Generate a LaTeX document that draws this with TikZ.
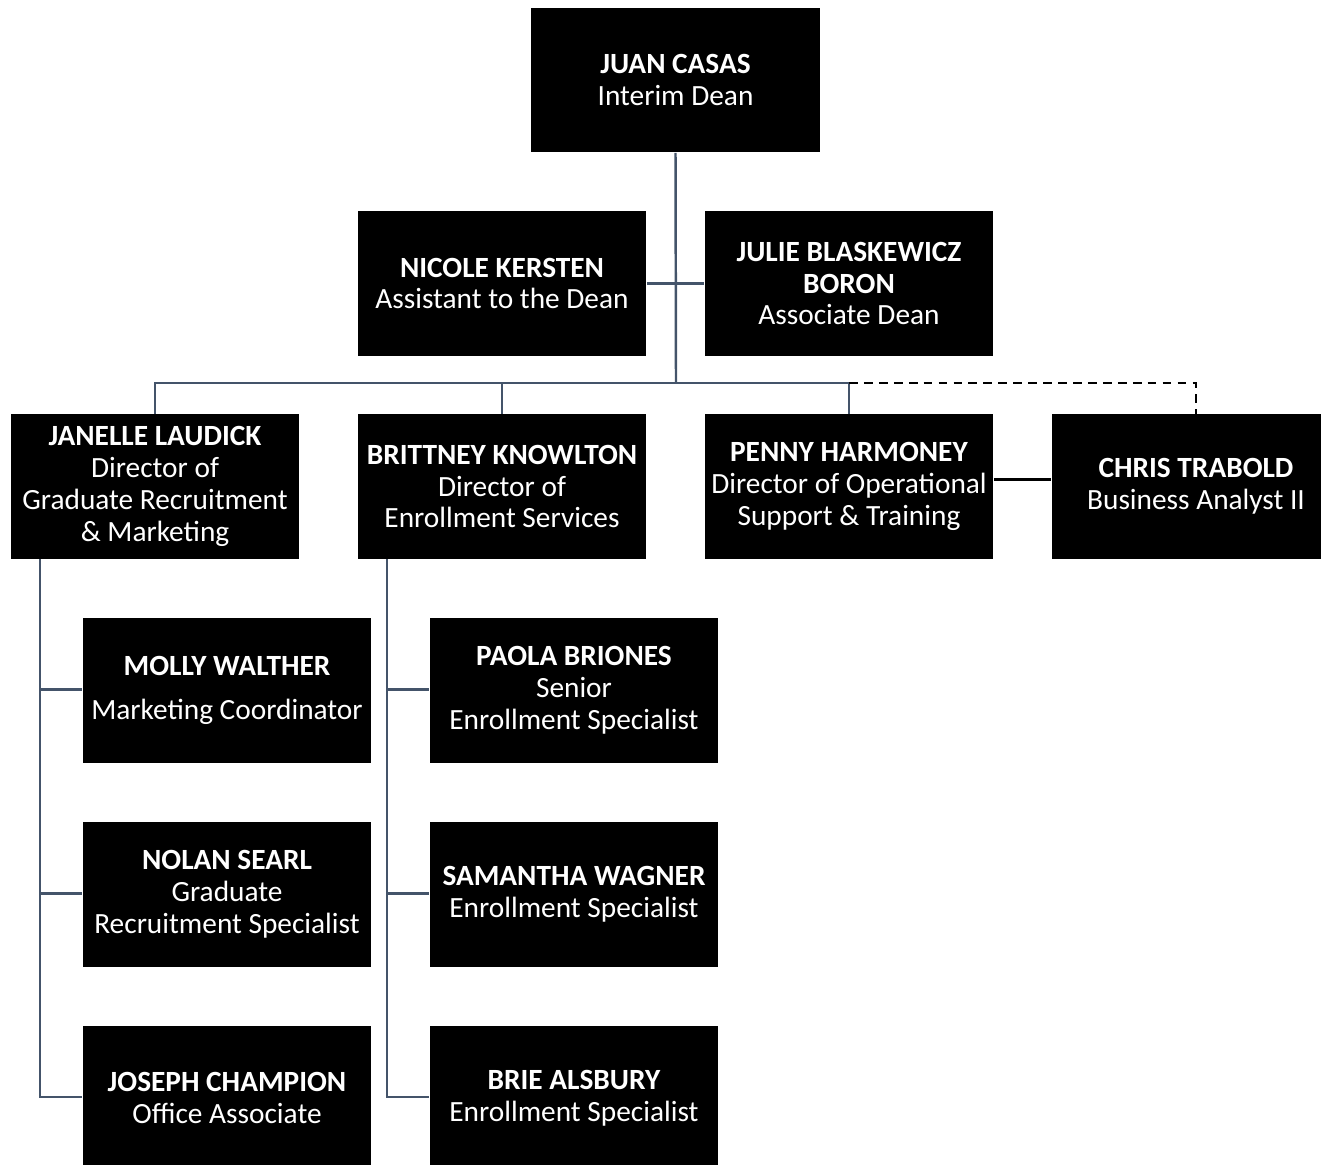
\documentclass[tikz,border=0pt]{standalone}
\usepackage{fontspec}
\setmainfont{Carlito}
\usepackage{xcolor}
\definecolor{linkgrey}{HTML}{44546A}
\usetikzlibrary{calc}

\begin{document}
\begin{tikzpicture}[x=0.02cm, y=-0.02cm,
      person/.style={rectangle, fill=black, text=white, align=center,
        minimum width=5.78cm, minimum height=2.9cm, inner sep=0pt,
        font=\fontsize{16.7}{18.2}\selectfont},
      link/.style={draw=linkgrey, line width=1.4pt},
      dotted link/.style={draw=black, line width=1pt, dash pattern=on 5pt off 3.5pt}]
      \useasboundingbox (0, 0) rectangle (1321, 1165);
      % top level
      \node[person] (dean) at (675.5, 80) {\textbf{JUAN CASAS}\\Interim Dean};
      \node[person] (assist) at (502, 283.5) {\textbf{NICOLE KERSTEN}\\Assistant to the Dean};
      \node[person] (assoc) at (849, 283.5) {\textbf{JULIE BLASKEWICZ}\\\textbf{BORON}\\Associate Dean};
      % directors
      \node[person] (recruit) at (155, 486.5) {\textbf{JANELLE LAUDICK}\\Director of\\Graduate Recruitment\\\& Marketing};
      \node[person] (enroll) at (502, 486.5) {\textbf{BRITTNEY KNOWLTON}\\Director of\\Enrollment Services};
      \node[person] (ops) at (849, 486.5) {\textbf{PENNY HARMONEY}\\Director of Operational\\Support \& Training};
      \node[person] (analyst) at (1196, 486.5) {\textbf{CHRIS TRABOLD}\\Business Analyst II};
      % staff
      \node[person] (molly) at (227, 690.5) {\textbf{MOLLY WALTHER}\\[7pt]Marketing Coordinator};
      \node[person] (nolan) at (227, 894.5) {\textbf{NOLAN SEARL}\\Graduate\\Recruitment Specialist};
      \node[person] (joseph) at (227, 1098) {\textbf{JOSEPH CHAMPION}\\Office Associate};
      \node[person] (paola) at (574, 690.5) {\textbf{PAOLA BRIONES}\\Senior\\Enrollment Specialist};
      \node[person] (samantha) at (574, 894.5) {\textbf{SAMANTHA WAGNER}\\Enrollment Specialist};
      \node[person] (brie) at (574, 1098) {\textbf{BRIE ALSBURY}\\Enrollment Specialist};

      \coordinate (bus) at (676, 383);
      \draw[link] (dean.south) -- (bus);
      \draw[link] (assist.east) -- (assoc.west);
      \draw[link] (recruit.north) |- (bus) -| (ops.north);
      \draw[link] (enroll.north) -- (enroll.north |- bus);
      \draw[dotted link] (ops.north |- bus) -| (analyst.north);
      \draw[black, line width=2pt] ($(ops.east)+(0,-7)$) -- ($(analyst.west)+(0,-7)$);
      % reports
      \foreach \kid in {molly, nolan, joseph}
        \draw[link] ($(recruit.south west)+(30,0)$) |- ($(\kid.west)+(0,-1)$);
      \foreach \kid in {paola, samantha, brie}
        \draw[link] ($(enroll.south west)+(30,0)$) |- ($(\kid.west)+(0,-1)$);
    \end{tikzpicture}
\end{document}
